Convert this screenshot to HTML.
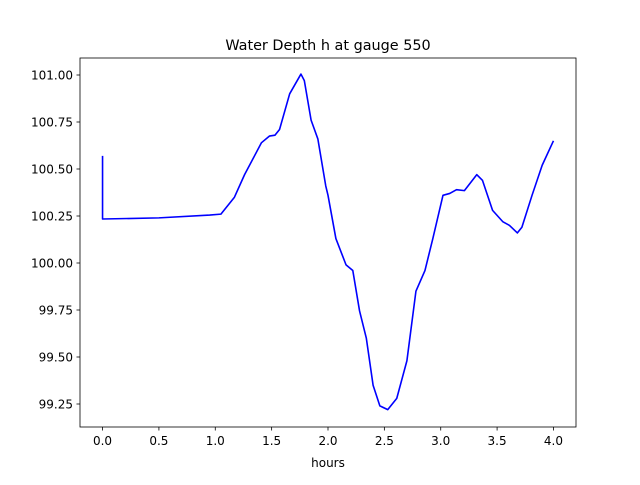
<!DOCTYPE html>
<html><head><meta charset="utf-8"><style>
body{margin:0;background:#fff}
svg text{font-family:"DejaVu Sans","Liberation Sans",sans-serif;fill:#000}
</style></head><body>
<svg width="640" height="480" viewBox="0 0 640 480">
<rect width="640" height="480" fill="#fff"/>
<text x="328" y="50" font-size="14.4" text-anchor="middle">Water Depth h at gauge 550</text>
<g id="xt"></g><g id="yt"></g>
<path id="line" fill="none" stroke="#0000ff" stroke-width="1.6" stroke-linejoin="round"/>
<rect x="80" y="58" width="496" height="369" fill="none" stroke="#000" stroke-width="0.8"/>
<text x="328" y="467" font-size="12" text-anchor="middle">hours</text>
</svg>
<script>
const hours=[0,0,0.5,0.95,1.05,1.17,1.26,1.41,1.48,1.53,1.57,1.66,1.76,1.79,1.85,1.91,1.98,2.0,2.07,2.16,2.22,2.28,2.34,2.40,2.46,2.53,2.61,2.70,2.78,2.86,2.93,3.02,3.08,3.14,3.21,3.32,3.37,3.46,3.55,3.61,3.68,3.72,3.81,3.90,4.0];
const depth=[100.57,100.234,100.24,100.255,100.26,100.35,100.47,100.64,100.675,100.68,100.71,100.90,101.005,100.97,100.76,100.66,100.41,100.36,100.13,99.99,99.96,99.745,99.60,99.35,99.24,99.22,99.28,99.48,99.85,99.96,100.13,100.36,100.37,100.39,100.385,100.47,100.44,100.28,100.22,100.20,100.16,100.19,100.36,100.52,100.65];
const xTicks=["0.0","0.5","1.0","1.5","2.0","2.5","3.0","3.5","4.0"];
const yTicks=["99.25","99.50","99.75","100.00","100.25","100.50","100.75","101.00"];
const NS="http://www.w3.org/2000/svg";
const X=v=>80+(v+0.2)/4.4*496;
const Y=v=>75+(101-v)*188;
let d="";
hours.forEach((h,i)=>{d+=(i?"L":"M")+X(h).toFixed(2)+","+Y(depth[i]).toFixed(2);});
document.getElementById("line").setAttribute("d",d);
const xt=document.getElementById("xt"),yt=document.getElementById("yt");
xTicks.forEach(t=>{const x=X(parseFloat(t));
const l=document.createElementNS(NS,"line");l.setAttribute("x1",x);l.setAttribute("x2",x);l.setAttribute("y1",427);l.setAttribute("y2",430.5);l.setAttribute("stroke","#000");l.setAttribute("stroke-width","0.8");


xt.appendChild(l);
const s=document.createElementNS(NS,"text");s.setAttribute("x",x);s.setAttribute("y",445);s.setAttribute("font-size","12");s.setAttribute("text-anchor","middle");s.textContent=t;


xt.appendChild(s);});
yTicks.forEach(t=>{const y=Y(parseFloat(t));
const l=document.createElementNS(NS,"line");l.setAttribute("x1",76.5);l.setAttribute("x2",80);l.setAttribute("y1",y);l.setAttribute("y2",y);l.setAttribute("stroke","#000");l.setAttribute("stroke-width","0.8");


yt.appendChild(l);
const s=document.createElementNS(NS,"text");s.setAttribute("x",73);s.setAttribute("y",y+4.5);s.setAttribute("font-size","12");s.setAttribute("text-anchor","end");s.textContent=t;


yt.appendChild(s);});
</script>
</body></html>
